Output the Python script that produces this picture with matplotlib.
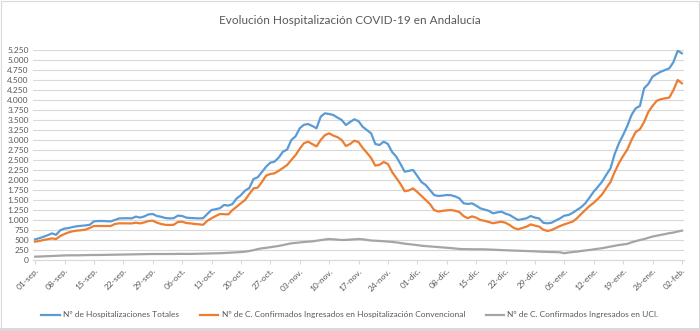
import matplotlib
matplotlib.use("Agg")
import matplotlib.pyplot as plt
from matplotlib.patches import Rectangle
from matplotlib.ticker import FuncFormatter, MultipleLocator

plt.rcParams['font.family'] = ['Lato', 'DejaVu Sans']

title = "Evolución Hospitalización COVID-19 en Andalucía"
series_names = ["Nº de Hospitalizaciones Totales",
                "Nº de C. Confirmados Ingresados en Hospitalización Convencional",
                "Nº de C. Confirmados Ingresados en UCI."]

tick_labels = ["01-sep.", "08-sep.", "15-sep.", "22-sep.", "29-sep.", "06-oct.", "13-oct.",
               "20-oct.", "27-oct.", "03-nov.", "10-nov.", "17-nov.", "24-nov.", "01-dic.",
               "08-dic.", "15-dic.", "22-dic.", "29-dic.", "05-ene.", "12-ene.", "19-ene.",
               "26-ene.", "02-feb."]

totales = [517, 545, 580, 620, 665, 630, 745, 785, 800, 825, 845, 855, 865, 880, 965, 975,
           975, 970, 965, 1000, 1040, 1042, 1045, 1040, 1085, 1060, 1090, 1140, 1150, 1100,
           1080, 1050, 1040, 1045, 1110, 1100, 1060, 1050, 1045, 1040, 1045, 1150, 1250,
           1270, 1295, 1375, 1360, 1400, 1540, 1620, 1735, 1800, 2025, 2067, 2200, 2333,
           2433, 2458, 2560, 2708, 2760, 3000, 3090, 3292, 3380, 3400, 3350, 3292, 3583,
           3667, 3650, 3625, 3560, 3500, 3375, 3450, 3517, 3470, 3330, 3250, 3167, 2900,
           2875, 2958, 2900, 2700, 2583, 2400, 2208, 2230, 2250, 2100, 1950, 1875, 1750,
           1625, 1600, 1610, 1625, 1620, 1590, 1542, 1420, 1400, 1417, 1360, 1292, 1260,
           1230, 1167, 1190, 1208, 1160, 1125, 1060, 1000, 1020, 1042, 1100, 1060, 1040,
           930, 917, 933, 990, 1042, 1108, 1125, 1180, 1250, 1320, 1417, 1560, 1708, 1830,
           1958, 2130, 2292, 2650, 2917, 3125, 3350, 3625, 3792, 3850, 4292, 4400, 4583,
           4650, 4708, 4750, 4792, 4950, 5233, 5167]

convencional = [458, 475, 500, 520, 540, 525, 600, 650, 690, 720, 735, 745, 760, 800, 850,
                850, 850, 848, 850, 900, 917, 917, 917, 915, 933, 915, 940, 975, 983, 933,
                900, 880, 875, 880, 950, 958, 925, 915, 900, 893, 880, 980, 1042, 1100,
                1150, 1145, 1140, 1250, 1333, 1420, 1500, 1650, 1790, 1810, 1950, 2110,
                2150, 2167, 2230, 2300, 2375, 2500, 2620, 2780, 2920, 2958, 2900, 2840,
                3000, 3120, 3167, 3110, 3070, 3000, 2850, 2900, 2983, 2950, 2800, 2680,
                2550, 2360, 2380, 2450, 2400, 2200, 2050, 1900, 1720, 1740, 1790, 1700,
                1600, 1500, 1400, 1250, 1210, 1230, 1240, 1250, 1230, 1200, 1100, 1045,
                1090, 1060, 1000, 980, 950, 920, 940, 958, 930, 875, 800, 767, 800, 833,
                890, 860, 835, 760, 725, 750, 800, 850, 890, 925, 960, 1042, 1150, 1250,
                1350, 1430, 1530, 1640, 1800, 1950, 2200, 2420, 2600, 2760, 3000, 3200,
                3270, 3450, 3700, 3850, 3980, 4020, 4042, 4060, 4250, 4500, 4417]

uci = [84, 86, 92, 96, 99, 105, 110, 115, 117, 118, 117, 120, 124, 124, 126, 125, 127, 128,
       130, 132, 134, 136, 138, 140, 142, 143, 146, 148, 150, 150, 151, 150, 149, 150, 153,
       152, 150, 152, 155, 157, 159, 162, 164, 166, 170, 174, 180, 186, 194, 199, 208, 225,
       246, 272, 292, 304, 319, 333, 351, 372, 396, 417, 427, 438, 450, 458, 466, 482, 500,
       513, 525, 518, 508, 500, 503, 511, 518, 525, 518, 503, 487, 482, 476, 469, 461, 452,
       440, 424, 408, 396, 382, 372, 356, 348, 340, 333, 322, 314, 306, 298, 288, 277, 272,
       270, 269, 268, 267, 267, 262, 257, 251, 247, 243, 239, 236, 232, 228, 224, 220, 216,
       209, 205, 201, 199, 197, 192, 170, 186, 199, 209, 225, 239, 251, 267, 281, 295, 314,
       335, 356, 375, 389, 403, 440, 471, 499, 524, 555, 586, 607, 628, 649, 670, 686, 712,
       733]

colors = ["#5B9BD5", "#ED7D31", "#A5A5A5"]
txt = "#595959"

fig = plt.figure(figsize=(7.0, 3.31), dpi=100)
fig.patches.append(Rectangle((0.002, 0.004), 0.996, 0.992, transform=fig.transFigure,
                             fill=False, edgecolor="#D9D9D9", linewidth=0.8))
fig.patches.append(Rectangle((0.0, 0.0), 1.0, 3/331, transform=fig.transFigure,
                             facecolor="#D9D9D9", edgecolor="none"))
ax = fig.add_axes([33/700, 1-260/331, (684-33)/700, 210/331])

for vals, c, name in zip([totales, convencional, uci], colors, series_names):
    ax.plot(range(len(vals)), vals, color=c, linewidth=1.6, label=name,
            solid_joinstyle="round")

ax.set_xlim(-0.5, len(totales) - 0.5)
ax.set_ylim(0, 5250)
ax.yaxis.set_major_locator(MultipleLocator(250))
ax.yaxis.set_major_formatter(FuncFormatter(lambda v, p: f"{int(v):,}".replace(",", ".")))
ax.grid(axis="y", color="#D9D9D9", linewidth=0.8)
ax.set_axisbelow(True)
for s in ["top", "right", "left"]:
    ax.spines[s].set_visible(False)
ax.spines["bottom"].set_color("#D9D9D9")
ax.tick_params(axis="y", length=0, labelsize=6, labelcolor=txt, pad=3)
ax.set_xticks(range(0, len(totales), 7))
ax.set_xticklabels(tick_labels, rotation=45, ha="right", rotation_mode="anchor")
ax.tick_params(axis="x", length=3, color="#D9D9D9", labelsize=6, labelcolor=txt, pad=2)

fig.text(0.5, 1-20/331, title, ha="center", va="center", fontsize=8.5, color=txt)
fig.legend(loc="center", bbox_to_anchor=(0.5, 1-315/331), ncol=3, frameon=False,
           fontsize=6, labelcolor=txt, handlelength=2.2, columnspacing=2.5,
           handletextpad=0.4)

fig.savefig("out.png", dpi=100)
